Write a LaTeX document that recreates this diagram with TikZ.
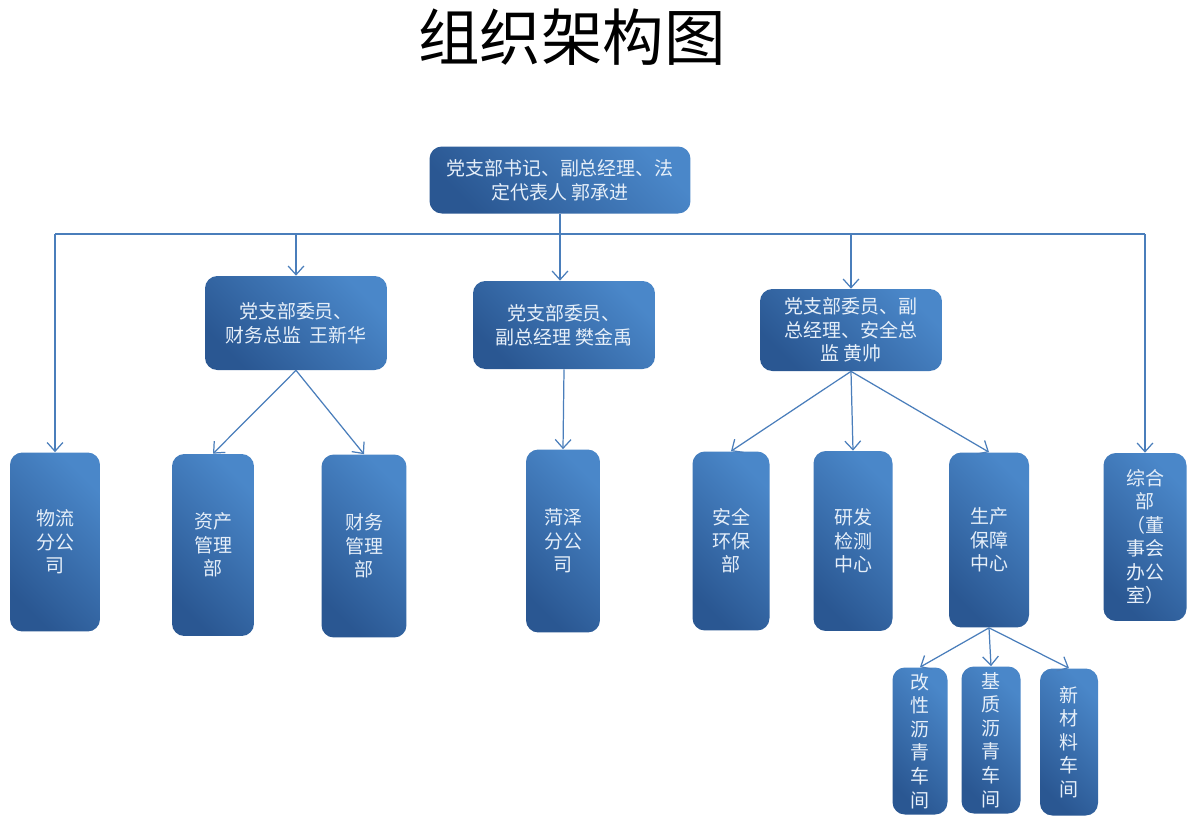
\documentclass[tikz,border=0pt]{standalone}
\usepackage{fontspec}
\setmainfont{Noto Sans CJK SC}
\usetikzlibrary{arrows.meta,calc}
\definecolor{boxhi}{HTML}{4A87C9}
\definecolor{boxlo}{HTML}{2A5792}
\definecolor{linkblue}{HTML}{4A7EBB}
\definecolor{boxtext}{HTML}{E6EFF9}

\begin{document}
\begin{tikzpicture}[x=0.02cm,y=-0.02cm,
  unit/.style={rounded corners=7pt, top color=boxhi, bottom color=boxlo, shading angle=-45,
    text=boxtext, font=\fontsize{10.8}{13.4}\selectfont, align=center, inner sep=0pt},
  link/.style={draw=linkblue, line width=0.7pt, -{Straight Barb[length=5pt,width=9pt]}},
  busline/.style={draw=linkblue, line width=0.7pt}]
\fill[white] (0,0) rectangle (1197,826);
\useasboundingbox (0,0) rectangle (1197,826);

\node (title) at (572,37) {\fontsize{35}{40}\selectfont 组织架构图};

% top
\node[unit, minimum width=5.22cm, minimum height=1.34cm] (chief) at (560,180) {党支部书记、副总经理、法\\定代表人 郭承进};

% middle row
\node[unit, minimum width=3.64cm, minimum height=1.88cm] (wang) at (296,323) {党支部委员、\\财务总监 \,王新华};
\node[unit, minimum width=3.64cm, minimum height=1.76cm] (fan) at (564,325) {党支部委员、\\副总经理 樊金禹};
\node[unit, minimum width=3.64cm, minimum height=1.64cm] (huang) at (851,330) {党支部委员、副\\总经理、安全总\\监 黄帅};

% bottom row
\node[unit, minimum width=1.80cm, minimum height=3.58cm] (wuliu) at (55,542) {物流\\分公\\司};
\node[unit, minimum width=1.64cm, minimum height=3.64cm] (zichan) at (213,545) {资产\\管理\\部};
\node[unit, minimum width=1.70cm, minimum height=3.66cm] (caiwu) at (364,546) {财务\\管理\\部};
\node[unit, minimum width=1.48cm, minimum height=3.66cm] (heze) at (563,541) {菏泽\\分公\\司};
\node[unit, minimum width=1.54cm, minimum height=3.58cm] (anquan) at (731,541) {安全\\环保\\部};
\node[unit, minimum width=1.58cm, minimum height=3.60cm] (yanfa) at (853,541) {研发\\检测\\中心};
\node[unit, minimum width=1.60cm, minimum height=3.50cm] (prod) at (989,540) {生产\\保障\\中心};
\node[unit, minimum width=1.66cm, minimum height=3.36cm] (zonghe) at (1145,537) {综合\\部\\（董\\事会\\办公\\室）};

% workshops
\node[unit, minimum width=1.10cm, minimum height=2.94cm] (gaixing) at (920,741) {改\\性\\沥\\青\\车\\间};
\node[unit, minimum width=1.18cm, minimum height=2.94cm] (jizhi) at (991,740) {基\\质\\沥\\青\\车\\间};
\node[unit, minimum width=1.16cm, minimum height=2.94cm] (xincai) at (1069,742) {新\\材\\料\\车\\间};

% links
\coordinate (bus) at (0,234);
\draw[busline] (wuliu.north |- bus) -- (zonghe.north |- bus);
\draw[link] (chief.south) -- (chief.south |- fan.north);
\foreach \b in {wuliu, wang, huang, zonghe}
  \draw[link] (\b.north |- bus) -- (\b.north);
\foreach \a/\b in {wang/zichan, wang/caiwu, fan/heze, huang/anquan, huang/yanfa, huang/prod,
  prod/gaixing, prod/jizhi, prod/xincai}
  \draw[link] (\a.south) -- (\b.north);

\end{tikzpicture}
\end{document}
